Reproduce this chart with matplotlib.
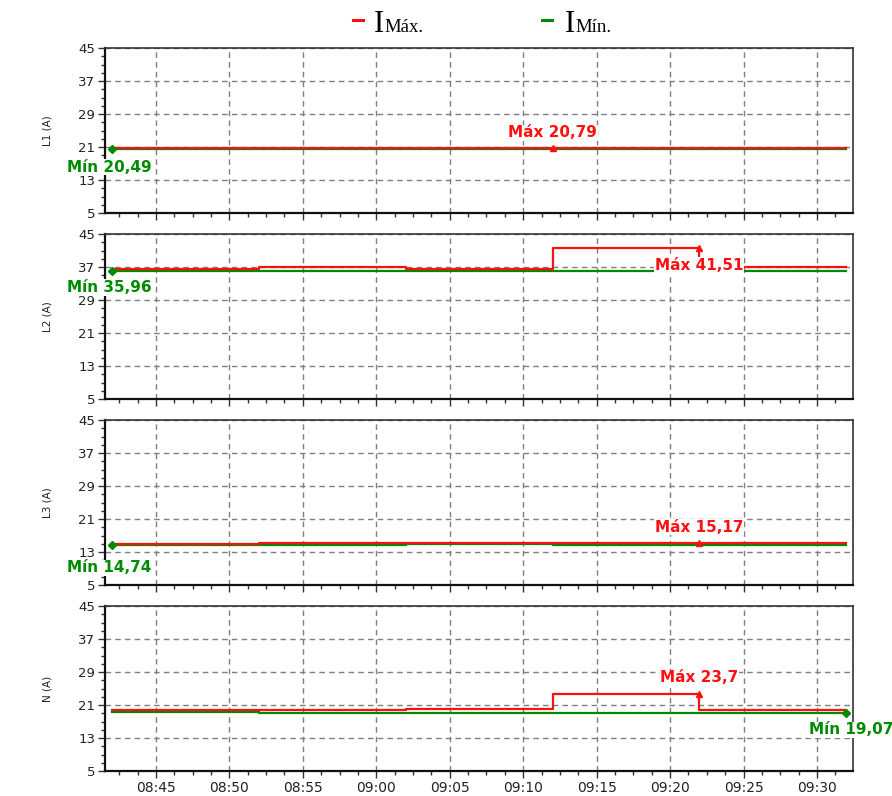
import datetime as dt
import matplotlib
matplotlib.use("Agg")
import matplotlib.pyplot as plt
import matplotlib.dates as mdates
from matplotlib.ticker import FixedLocator, MultipleLocator
from matplotlib.lines import Line2D

# Sample times (10-minute logging interval)
times = ["08:42", "08:52", "09:02", "09:12", "09:22", "09:32"]

# Maximum / minimum current per interval, amperes
l1_max = [20.75, 20.76, 20.74, 20.79, 20.77, 20.76]
l1_min = [20.49, 20.55, 20.52, 20.58, 20.54, 20.56]
l2_max = [36.6, 36.6, 37.0, 36.6, 41.51, 37.0]
l2_min = [35.96, 35.98, 35.99, 35.98, 36.08, 36.06]
l3_max = [15.0, 15.05, 15.08, 15.1, 15.17, 15.1]
l3_min = [14.74, 14.8, 14.78, 14.82, 14.8, 14.79]
n_max = [19.85, 19.9, 19.88, 19.92, 23.7, 19.9]
n_min = [19.2, 19.2, 19.18, 19.15, 19.12, 19.07]

panel_names = ["L1 (A)", "L2 (A)", "L3 (A)", "N (A)"]
y_ticks = [5, 13, 21, 29, 37, 45]
legend_labels = ["Máx.", "Mín."]

RED = "#ff1010"
GREEN = "#008a00"
GRID = "#7f7f7f"

day = dt.date(2024, 1, 1)
t = [dt.datetime.combine(day, dt.time(int(s[:2]), int(s[3:]))) for s in times]
x0 = dt.datetime.combine(day, dt.time(8, 41, 32))
x1 = dt.datetime.combine(day, dt.time(9, 32, 27))

panels = [(l1_max, l1_min), (l2_max, l2_min), (l3_max, l3_min), (n_max, n_min)]

# Annotation placement: (max offset px, max ha, min offset px, min ha)
ann = [
    ((0, 15), "center", (-45, -18), "left"),
    ((0, -17), "center", (-45, -16), "left"),
    ((0, 16), "center", (-45, -23), "left"),
    ((0, 16), "center", (47, -17), "right"),
]


def fmt(v):
    s = f"{v:.2f}".rstrip("0").rstrip(".")
    return s.replace(".", ",")


W, H = 892, 796
fig = plt.figure(figsize=(W / 100, H / 100), dpi=100)
fig.patch.set_facecolor("white")

left = 105 / W
width = (853 - 105) / W
ph = 165
tops = [48, 234, 420, 606]

for i, ((vmax, vmin), name, a) in enumerate(zip(panels, panel_names, ann)):
    ax = fig.add_axes([left, 1 - (tops[i] + ph) / H, width, ph / H])
    ax.step(t, vmin, where="pre", color=GREEN, lw=1.6, zorder=3)
    ax.step(t, vmax, where="pre", color=RED, lw=1.6, zorder=4)

    imax = vmax.index(max(vmax))
    imin = vmin.index(min(vmin))
    ax.plot(t[imax], vmax[imax], marker="^", ms=5, color=RED, zorder=5, clip_on=False)
    ax.plot(t[imin], vmin[imin], marker="D", ms=4, color=GREEN, zorder=5, clip_on=False)

    box = dict(boxstyle="square,pad=0.05", fc="white", ec="none")
    ax.annotate(f"Máx {fmt(vmax[imax])}", (t[imax], vmax[imax]),
                xytext=a[0], textcoords="offset pixels", ha=a[1], va="center",
                color=RED, fontsize=11, fontweight="bold", family="DejaVu Sans",
                bbox=box, zorder=10, annotation_clip=False)
    ax.annotate(f"Mín {fmt(vmin[imin])}", (t[imin], vmin[imin]),
                xytext=a[2], textcoords="offset pixels", ha=a[3], va="center",
                color=GREEN, fontsize=11, fontweight="bold", family="DejaVu Sans",
                bbox=box, zorder=10, annotation_clip=False)

    ax.set_xlim(x0, x1)
    ax.set_ylim(5, 45)
    ax.yaxis.set_major_locator(FixedLocator(y_ticks))
    ax.yaxis.set_minor_locator(FixedLocator(list(range(5, 46, 2))))
    ax.xaxis.set_major_locator(mdates.MinuteLocator(byminute=range(0, 60, 5)))
    ax.xaxis.set_minor_locator(MultipleLocator(1.25 / 1440))
    ax.xaxis.set_major_formatter(mdates.DateFormatter("%H:%M"))

    ax.grid(True, which="major", color=GRID, linestyle=(0, (4, 3)), lw=1.0)
    ax.set_axisbelow(True)
    ax.tick_params(which="major", length=5, width=1, color="#333333",
                   labelcolor="#222222", pad=2)
    ax.tick_params(axis="y", which="major", labelsize=9.5)
    ax.tick_params(axis="x", which="major", labelsize=10)
    ax.tick_params(which="minor", length=3, width=1, color="#333333")
    if i < 3:
        ax.tick_params(axis="x", labelbottom=False)

    for side in ["left", "bottom"]:
        ax.spines[side].set_linewidth(1.6)
        ax.spines[side].set_color("#111111")
    for side in ["top", "right"]:
        ax.spines[side].set_linewidth(1.2)
        ax.spines[side].set_color("#333333")

    ax.set_ylabel(name, fontsize=7.5, color="#222222")
    ax.yaxis.set_label_coords(-53 / 748, 0.5)

# Legend header
ly = 1 - 31.5 / H
for (xd, xi, col, lab) in [(353, 374, RED, legend_labels[0]), (542, 565, GREEN, legend_labels[1])]:
    fig.add_artist(Line2D([xd / W, (xd + 10) / W], [1 - 20 / H, 1 - 20 / H],
                          transform=fig.transFigure, color=col, lw=2.2))
    fig.text(xi / W, ly, "I", fontsize=22, family="Liberation Serif",
             va="baseline", ha="left", color="black")
    fig.text((xi + 10) / W, ly, lab, fontsize=13.5, family="Liberation Serif",
             va="baseline", ha="left", color="black")

fig.savefig("out.png", dpi=100, facecolor="white")
